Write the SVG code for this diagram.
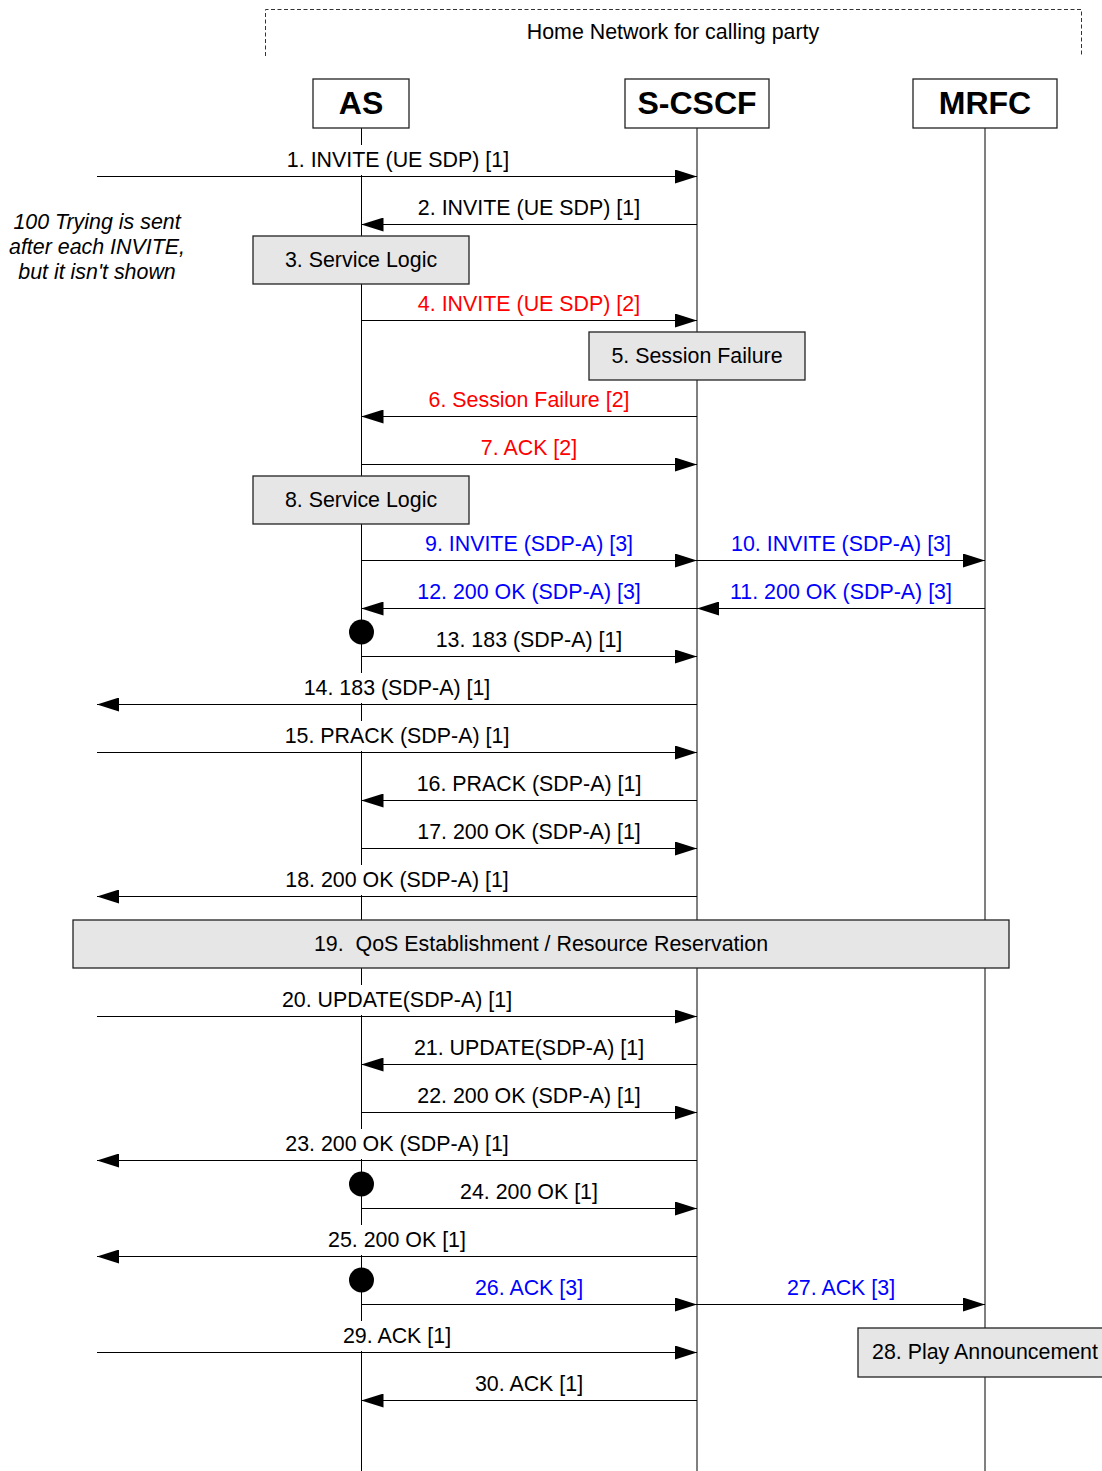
<svg xmlns="http://www.w3.org/2000/svg" width="1102" height="1471" viewBox="0 0 1102 1471">
<style>
text{font-family:"Liberation Sans",Arial,sans-serif;font-size:21.4px;fill:#000}
.hdr{font-size:32px;font-weight:bold;text-anchor:middle}
.c{text-anchor:middle}
.red{fill:#ff0000}
.blue{fill:#0000ff}
.note{font-style:italic;text-anchor:middle}
.life{stroke:#000;stroke-width:1;fill:none}
.msg{stroke:#000;stroke-width:1.2;fill:none;marker-end:url(#ah)}
.box{fill:#e6e6e6;stroke:#222;stroke-width:1.3}
.hbox{fill:#fff;stroke:#222;stroke-width:1.3}
.bg{fill:#fff}
.dot{fill:#000}
</style>
<defs>
<marker id="ah" markerUnits="userSpaceOnUse" markerWidth="22" markerHeight="14" refX="22" refY="7" orient="auto">
<path d="M0,0 L22,7 L0,14 z" fill="#000"/>
</marker>
</defs>

<g id="home-network">
<path d="M265.5,56 V9.5 H1081.5 V56" fill="none" stroke="#333" stroke-width="1" stroke-dasharray="4,2.5"/>
<text x="673" y="39" class="c">Home Network for calling party</text>
</g>

<g id="lifelines">
<line class="life" x1="361.5" y1="128" x2="361.5" y2="1471"/>
<line class="life" x1="697" y1="128" x2="697" y2="1471"/>
<line class="life" x1="985" y1="128" x2="985" y2="1471"/>
</g>

<g id="node-AS">
<rect class="hbox" x="313" y="79" width="96" height="49"/>
<text x="361" y="114" class="hdr">AS</text>
</g>
<g id="node-SCSCF">
<rect class="hbox" x="625" y="79" width="144" height="49"/>
<text x="697" y="114" class="hdr">S-CSCF</text>
</g>
<g id="node-MRFC">
<rect class="hbox" x="913" y="79" width="144" height="49"/>
<text x="985" y="114" class="hdr">MRFC</text>
</g>

<g id="note">
<text class="note" x="97" y="229">100 Trying is sent</text>
<text class="note" x="97" y="254">after each INVITE,</text>
<text class="note" x="97" y="279">but it isn't shown</text>
</g>

<g id="label-backgrounds">
<rect class="bg" x="284" y="145" width="228" height="30"/>
<rect class="bg" x="302" y="673" width="191" height="30"/>
<rect class="bg" x="283" y="721" width="229" height="30"/>
<rect class="bg" x="284" y="865" width="227" height="30"/>
<rect class="bg" x="279" y="985" width="236" height="30"/>
<rect class="bg" x="284" y="1129" width="227" height="30"/>
<rect class="bg" x="325" y="1225" width="144" height="30"/>
<rect class="bg" x="339" y="1321" width="116" height="30"/>
</g>

<g id="box-3">
<rect class="box" x="253" y="236" width="216" height="48"/>
<text x="361" y="267" class="c">3. Service Logic</text>
</g>
<g id="box-5">
<rect class="box" x="589" y="332" width="216" height="48"/>
<text x="697" y="363" class="c">5. Session Failure</text>
</g>
<g id="box-8">
<rect class="box" x="253" y="476" width="216" height="48"/>
<text x="361" y="507" class="c">8. Service Logic</text>
</g>
<g id="box-19">
<rect class="box" x="73" y="920" width="936" height="48"/>
<text x="541" y="950.5" class="c" style="white-space:pre">19.  QoS Establishment / Resource Reservation</text>
</g>
<g id="box-28">
<rect class="box" x="858" y="1328" width="254" height="49"/>
<text x="985" y="1359" class="c">28. Play Announcement</text>
</g>

<g id="dots">
<circle class="dot" cx="361.5" cy="632" r="12.5"/>
<circle class="dot" cx="361.5" cy="1184" r="12.5"/>
<circle class="dot" cx="361.5" cy="1280" r="12.5"/>
</g>

<g id="connectors">
<line class="msg" x1="97" y1="176.5" x2="697" y2="176.5"/>
<line class="msg" x1="697" y1="224.5" x2="361.5" y2="224.5"/>
<line class="msg" x1="361.5" y1="320.5" x2="697" y2="320.5"/>
<line class="msg" x1="697" y1="416.5" x2="361.5" y2="416.5"/>
<line class="msg" x1="361.5" y1="464.5" x2="697" y2="464.5"/>
<line class="msg" x1="361.5" y1="560.5" x2="697" y2="560.5"/>
<line class="msg" x1="697" y1="560.5" x2="985" y2="560.5"/>
<line class="msg" x1="985" y1="608.5" x2="697" y2="608.5"/>
<line class="msg" x1="697" y1="608.5" x2="361.5" y2="608.5"/>
<line class="msg" x1="361.5" y1="656.5" x2="697" y2="656.5"/>
<line class="msg" x1="697" y1="704.5" x2="97" y2="704.5"/>
<line class="msg" x1="97" y1="752.5" x2="697" y2="752.5"/>
<line class="msg" x1="697" y1="800.5" x2="361.5" y2="800.5"/>
<line class="msg" x1="361.5" y1="848.5" x2="697" y2="848.5"/>
<line class="msg" x1="697" y1="896.5" x2="97" y2="896.5"/>
<line class="msg" x1="97" y1="1016.5" x2="697" y2="1016.5"/>
<line class="msg" x1="697" y1="1064.5" x2="361.5" y2="1064.5"/>
<line class="msg" x1="361.5" y1="1112.5" x2="697" y2="1112.5"/>
<line class="msg" x1="697" y1="1160.5" x2="97" y2="1160.5"/>
<line class="msg" x1="361.5" y1="1208.5" x2="697" y2="1208.5"/>
<line class="msg" x1="697" y1="1256.5" x2="97" y2="1256.5"/>
<line class="msg" x1="361.5" y1="1304.5" x2="697" y2="1304.5"/>
<line class="msg" x1="697" y1="1304.5" x2="985" y2="1304.5"/>
<line class="msg" x1="97" y1="1352.5" x2="697" y2="1352.5"/>
<line class="msg" x1="697" y1="1400.5" x2="361.5" y2="1400.5"/>
</g>

<g id="labels">
<text x="398" y="167" class="c">1. INVITE (UE SDP) [1]</text>
<text x="529" y="215" class="c">2. INVITE (UE SDP) [1]</text>
<text x="529" y="311" class="c red">4. INVITE (UE SDP) [2]</text>
<text x="529" y="407" class="c red">6. Session Failure [2]</text>
<text x="529" y="455" class="c red">7. ACK [2]</text>
<text x="529" y="551" class="c blue">9. INVITE (SDP-A) [3]</text>
<text x="841" y="551" class="c blue">10. INVITE (SDP-A) [3]</text>
<text x="841" y="599" class="c blue">11. 200 OK (SDP-A) [3]</text>
<text x="529" y="599" class="c blue">12. 200 OK (SDP-A) [3]</text>
<text x="529" y="647" class="c">13. 183 (SDP-A) [1]</text>
<text x="397" y="695" class="c">14. 183 (SDP-A) [1]</text>
<text x="397" y="743" class="c">15. PRACK (SDP-A) [1]</text>
<text x="529" y="791" class="c">16. PRACK (SDP-A) [1]</text>
<text x="529" y="839" class="c">17. 200 OK (SDP-A) [1]</text>
<text x="397" y="887" class="c">18. 200 OK (SDP-A) [1]</text>
<text x="397" y="1007" class="c">20. UPDATE(SDP-A) [1]</text>
<text x="529" y="1055" class="c">21. UPDATE(SDP-A) [1]</text>
<text x="529" y="1103" class="c">22. 200 OK (SDP-A) [1]</text>
<text x="397" y="1151" class="c">23. 200 OK (SDP-A) [1]</text>
<text x="529" y="1199" class="c">24. 200 OK [1]</text>
<text x="397" y="1247" class="c">25. 200 OK [1]</text>
<text x="529" y="1295" class="c blue">26. ACK [3]</text>
<text x="841" y="1295" class="c blue">27. ACK [3]</text>
<text x="397" y="1343" class="c">29. ACK [1]</text>
<text x="529" y="1391" class="c">30. ACK [1]</text>
</g>
</svg>
